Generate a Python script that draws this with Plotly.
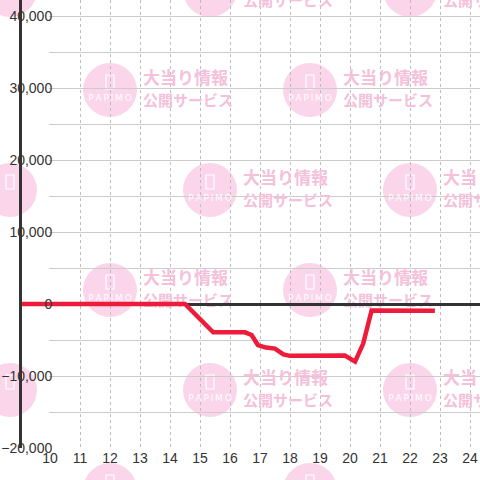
import plotly.graph_objects as go

# ---- data ----
x_vals = [9, 14.5, 15.44, 16.5, 16.72, 16.93, 17.2, 17.5, 17.78, 18.0, 19.83, 20.17, 20.44, 20.72, 22.83]
y_vals = [0, 0, -3930, -3930, -4300, -5700, -6050, -6200, -7000, -7200, -7150, -8000, -5500, -900, -950]
x_ticks = list(range(10, 25))
y_ticks = [-20000, -10000, 0, 10000, 20000, 30000, 40000]

# ---- layout geometry ----
W, H = 480, 480
ML, MR, MT, MB = 22, 0, 0, 32
PW, PH = W - ML - MR, H - MT - MB
X0 = 10 - (50 - ML) / 30.0
X1 = X0 + PW / 30.0
Y0, Y1 = -20000, -20000 + PH / 0.0072
GRID_START_PX = 49  # horizontal grid begins here


def px2x(px):
    return X0 + (px - ML) * (X1 - X0) / PW


def py2y(py):
    return Y1 - (py - MT) * (Y1 - Y0) / PH


def px2paper(px):
    return (px - ML) / PW


def py2paper(py):
    return (H - MB - py) / PH


fig = go.Figure()

# ---- watermark (decoration) ----
wm_rows = [-10, 90, 190, 290, 390, 490]
shapes = []
wm_x, wm_y, wm_t = [], [], []
pap_x, pap_y = [], []
for i, cy in enumerate(wm_rows):
    cxs = [10, 210, 410] if i % 2 == 0 else [-90, 110, 310, 510]
    for cx in cxs:
        r = 27
        shapes.append(dict(type="circle", xref="paper", yref="paper",
                           x0=px2paper(cx - r), x1=px2paper(cx + r),
                           y0=py2paper(cy + r), y1=py2paper(cy - r),
                           fillcolor="#fbd5ea", line=dict(width=0), layer="below"))
        shapes.append(dict(type="rect", xref="paper", yref="paper",
                           x0=px2paper(cx - 4), x1=px2paper(cx + 4),
                           y0=py2paper(cy - 1), y1=py2paper(cy - 15),
                           line=dict(color="white", width=1.2), layer="below"))
        pap_x.append(px2x(cx))
        pap_y.append(py2y(cy + 9))
        wm_x.append(px2x(cx + 33))
        wm_y.append(py2y(cy - 10))
        wm_t.append("<b>大当り情報</b>")
        wm_x.append(px2x(cx + 33))
        wm_y.append(py2y(cy + 12))
        wm_t.append("<b>公開サービス</b>")

fig.add_trace(go.Scatter(x=wm_x[0::2], y=wm_y[0::2], text=wm_t[0::2], mode="text",
                         textposition="middle right", cliponaxis=False, hoverinfo="skip",
                         textfont=dict(family="Noto Sans CJK JP", size=17, color="#f4c0da"),
                         xaxis="x", yaxis="y", showlegend=False))
fig.add_trace(go.Scatter(x=wm_x[1::2], y=wm_y[1::2], text=wm_t[1::2], mode="text",
                         textposition="middle right", cliponaxis=False, hoverinfo="skip",
                         textfont=dict(family="Noto Sans CJK JP", size=15, color="#f4c0da"),
                         xaxis="x", yaxis="y", showlegend=False))
fig.add_trace(go.Scatter(x=pap_x, y=pap_y, text=["P\u2009A\u2009P\u2009I\u2009M\u2009O"] * len(pap_x),
                         mode="text", textposition="middle center", cliponaxis=False, hoverinfo="skip",
                         textfont=dict(family="DejaVu Sans", size=9, color="white"),
                         xaxis="x", yaxis="y", showlegend=False))

# ---- data line ----
fig.add_trace(go.Scatter(x=x_vals, y=y_vals, mode="lines",
                         line=dict(color="#ec1c3a", width=4.5),
                         xaxis="x2", yaxis="y2", showlegend=False, hoverinfo="skip"))

grid_dom0 = px2paper(GRID_START_PX)
fig.update_layout(
    width=W, height=H,
    margin=dict(l=ML, r=MR, t=MT, b=MB, pad=0, autoexpand=False),
    paper_bgcolor="white", plot_bgcolor="rgba(0,0,0,0)",
    shapes=shapes,
    xaxis=dict(domain=[grid_dom0, 1], range=[px2x(GRID_START_PX), X1], anchor="y",
               tickmode="array", tickvals=x_ticks, showticklabels=False, automargin=False,
               showgrid=True, gridcolor="#bdbdbd", gridwidth=1, griddash="3px,3px",
               zeroline=False, showline=False, ticks=""),
    yaxis=dict(domain=[0, 1], range=[Y0, Y1], anchor="x", automargin=False,
               dtick=5000, tick0=0, showticklabels=False,
               showgrid=True, gridcolor="#cccccc", gridwidth=1,
               zeroline=False, showline=False, ticks=""),
    xaxis2=dict(domain=[0, 1], range=[X0, X1], anchor="y2", automargin=False,
                tickmode="array", tickvals=x_ticks, ticktext=[str(v) for v in x_ticks],
                showgrid=False, zeroline=False, showline=False, ticks="",
                tickfont=dict(family="Liberation Sans", size=14, color="#333333")),
    yaxis2=dict(domain=[0, 1], range=[Y0, Y1], anchor="x2", automargin=False,
                tickmode="array", tickvals=y_ticks, tickformat=",d",
                showgrid=False, zeroline=True, zerolinecolor="#333333", zerolinewidth=3,
                showline=True, linecolor="#333333", linewidth=3, ticks="",
                ticklabelstandoff=-36,
                tickfont=dict(family="Liberation Sans", size=14, color="#333333")),
)

fig.write_html("out.html", config={"displayModeBar": False},
               post_script="document.body.style.margin='0';")
